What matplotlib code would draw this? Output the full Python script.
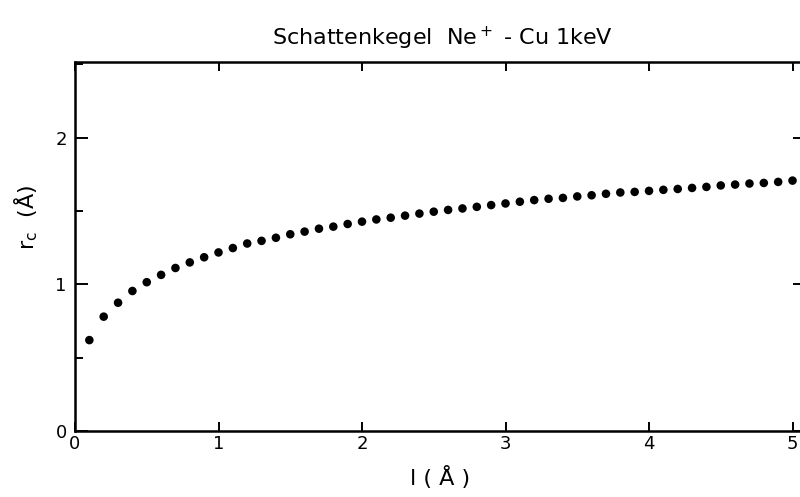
import matplotlib
matplotlib.use("Agg")
import matplotlib.pyplot as plt
from matplotlib.ticker import MultipleLocator

plt.rcParams['mathtext.default'] = 'regular'
plt.rcParams['font.family'] = ['DejaVu Sans']

# abstand l (Angstrom) und schattenkegelradius r_c (Angstrom), aus dem Bild gelesen
l = [0.1, 0.2, 0.3, 0.4, 0.5, 0.6, 0.7, 0.8, 0.9, 1.0,
     1.1, 1.2, 1.3, 1.4, 1.5, 1.6, 1.7, 1.8, 1.9, 2.0,
     2.1, 2.2, 2.3, 2.4, 2.5, 2.6, 2.7, 2.8, 2.9, 3.0,
     3.1, 3.2, 3.3, 3.4, 3.5, 3.6, 3.7, 3.8, 3.9, 4.0,
     4.1, 4.2, 4.3, 4.4, 4.5, 4.6, 4.7, 4.8, 4.9, 5.0]
rc = [0.62, 0.78, 0.875, 0.955, 1.015, 1.065, 1.112, 1.150, 1.185, 1.218,
      1.248, 1.279, 1.297, 1.318, 1.342, 1.360, 1.380, 1.394, 1.412, 1.428,
      1.443, 1.455, 1.469, 1.483, 1.496, 1.508, 1.518, 1.529, 1.541, 1.552,
      1.564, 1.575, 1.584, 1.590, 1.600, 1.608, 1.618, 1.627, 1.631, 1.638,
      1.645, 1.651, 1.658, 1.665, 1.675, 1.681, 1.688, 1.692, 1.699, 1.708]

x_ticks = [0, 1, 2, 3, 4, 5]
y_ticks = [0, 1, 2]

fig = plt.figure(figsize=(8, 4.97), dpi=100)
# rechte Achse liegt knapp ausserhalb des Bildes (wie im Scan abgeschnitten)
ax = fig.add_axes([75/800, 66/497, 730/800, 369/497])

ax.scatter(l, rc, s=38, color='black', edgecolors='none', zorder=3)

ax.set_xlim(0, 5.087)
ax.set_ylim(0, 2.517)
ax.set_xticks(x_ticks)
ax.set_yticks(y_ticks)
ax.yaxis.set_minor_locator(MultipleLocator(0.5))

for s in ax.spines.values():
    s.set_linewidth(1.8)

ax.tick_params(axis='x', which='major', direction='in', top=True, bottom=True,
               length=6.5, width=1.4, labelsize=13, pad=3)
ax.tick_params(axis='y', which='major', direction='in', left=True, right=True,
               length=9, width=1.4, labelsize=13, pad=6)
ax.tick_params(axis='y', which='minor', direction='in', left=True, right=False,
               length=5.5, width=1.4)

fig.text(442/800, 1 - 38/497, r'Schattenkegel  Ne$^+$ - Cu 1keV',
         ha='center', va='center', fontsize=16)
fig.text(440/800, 1 - 478/497, 'l ( Å )', ha='center', va='center', fontsize=16)
fig.text(26/800, 1 - 217/497, r'$r_c$  (Å)', ha='center', va='center',
         fontsize=16, rotation=90)

fig.savefig('out.png', dpi=100)
